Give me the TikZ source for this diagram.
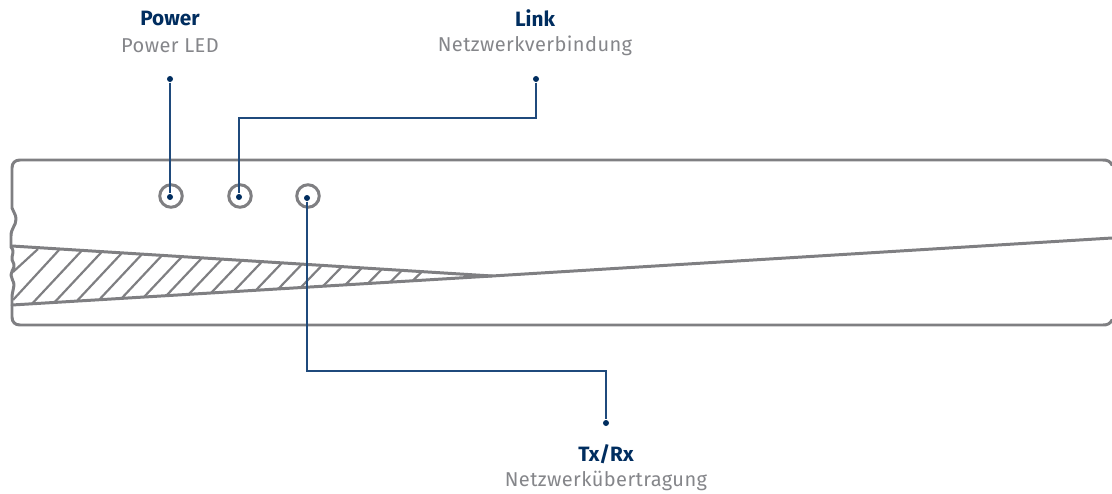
\documentclass[tikz,border=0pt]{standalone}
\usepackage{fontspec}
\usepackage{xcolor}
\setmainfont{Fira Sans}
\newfontfamily\labelfont[LetterSpace=2]{Fira Sans}
\definecolor{housing}{HTML}{7F7F82}
\definecolor{wire}{HTML}{1F4A7C}
\definecolor{navy}{HTML}{002D5F}
\definecolor{subtext}{HTML}{85868A}
\usetikzlibrary{calc}
\tikzset{
    housingline/.style={draw=housing, line width=0.85pt, line cap=round, line join=round},
    hatchline/.style={draw=housing, line width=0.62pt},
    led/.style={circle, draw=housing, line width=0.85pt, minimum size=0.225cm, inner sep=0pt},
    tipdot/.style={circle, fill=navy, minimum size=0.06cm, inner sep=0pt},
    wireline/.style={draw=wire, line width=0.42pt},
    title/.style={font=\bfseries\fontsize{5.9}{6}\selectfont, text=navy, inner sep=0pt},
    subtitle/.style={font=\labelfont\fontsize{5.7}{6}\selectfont, text=subtext, inner sep=0pt}
}
\begin{document}
\begin{tikzpicture}[x=0.01cm, y=-0.01cm]
    \useasboundingbox (0,0) rectangle (1112,494);

    % Housing
    \draw[housingline] (1112,165) .. controls (1110,161) and (1107,160) .. (1103,160)
        -- (20,160) .. controls (15,160) and (12,163) .. (12,168)
        -- (12,208) .. controls (13,212) and (16,214) .. (16,219)
        .. controls (16,226) and (11,228) .. (11,236) -- (11,247)
        .. controls (14,250) and (13,253) .. (12,257)
        .. controls (11,261) and (15,263) .. (14,267)
        .. controls (13,270) and (11,272) .. (11,275)
        .. controls (11,279) and (14,281) .. (14,285)
        .. controls (14,289) and (12,292) .. (12,297)
        -- (12,317) .. controls (12,322) and (15,325) .. (20,325)
        -- (1103,325) .. controls (1107,325) and (1110,324) .. (1112,320);

    % Wedge
    \coordinate (wedgetop) at (12,246);
    \coordinate (wedgelow) at (12,305);
    \coordinate (wedgetip) at (492,276);
    \coordinate (wedgeend) at (1112,238);
    \draw[housingline] (wedgetop) -- (wedgetip);
    \draw[housingline] (wedgelow) -- (wedgetip) -- (wedgeend);

    % Hatching
    \draw[hatchline] (13,272) -- (38,249);
    \draw[hatchline] (13,300) -- (59,250);
    \foreach \i in {0,...,17} {
        \pgfmathsetmacro{\topx}{82+20*\i}
        \pgfmathsetmacro{\lowx}{32+22.4*\i}
        \draw[hatchline] (\lowx,{305-0.0609*(\lowx-12)}) -- (\topx,{246+0.0625*(\topx-12)});
    }

    % LEDs
    \node[led] (ledpower) at (171,196) {};
    \node[led] (ledlink) at (240,196) {};
    \node[led] (ledtx) at (308,196) {};

    % Power
    \node[title] (power) at (170,18) {Power};
    \node[subtitle] (powersub) at (170,46) {Power LED};
    \node[tipdot] (powertip) at (170,79) {};
    \node[tipdot] (powerend) at (170,197) {};
    \draw[wireline] (powertip) -- (powerend);

    % Link
    \node[title] (link) at (535,18) {Link};
    \node[subtitle] (linksub) at (535,46) {Netzwerkverbindung};
    \node[tipdot] (linktip) at (536,79) {};
    \node[tipdot] (linkend) at (239,197) {};
    \coordinate (linkbend) at (536,118);
    \draw[wireline] (linktip) -- (linkbend) -| (linkend);

    % Tx/Rx
    \node[title] (txrx) at (606,454) {Tx/Rx};
    \node[subtitle] (txrxsub) at (606,481) {Netzwerkübertragung};
    \node[tipdot] (txrxtip) at (606,423) {};
    \node[tipdot] (txrxend) at (307,198) {};
    \coordinate (txrxbend) at (307,371);
    \draw[wireline] (txrxend) -- (txrxbend) -| (txrxtip);
\end{tikzpicture}
\end{document}
